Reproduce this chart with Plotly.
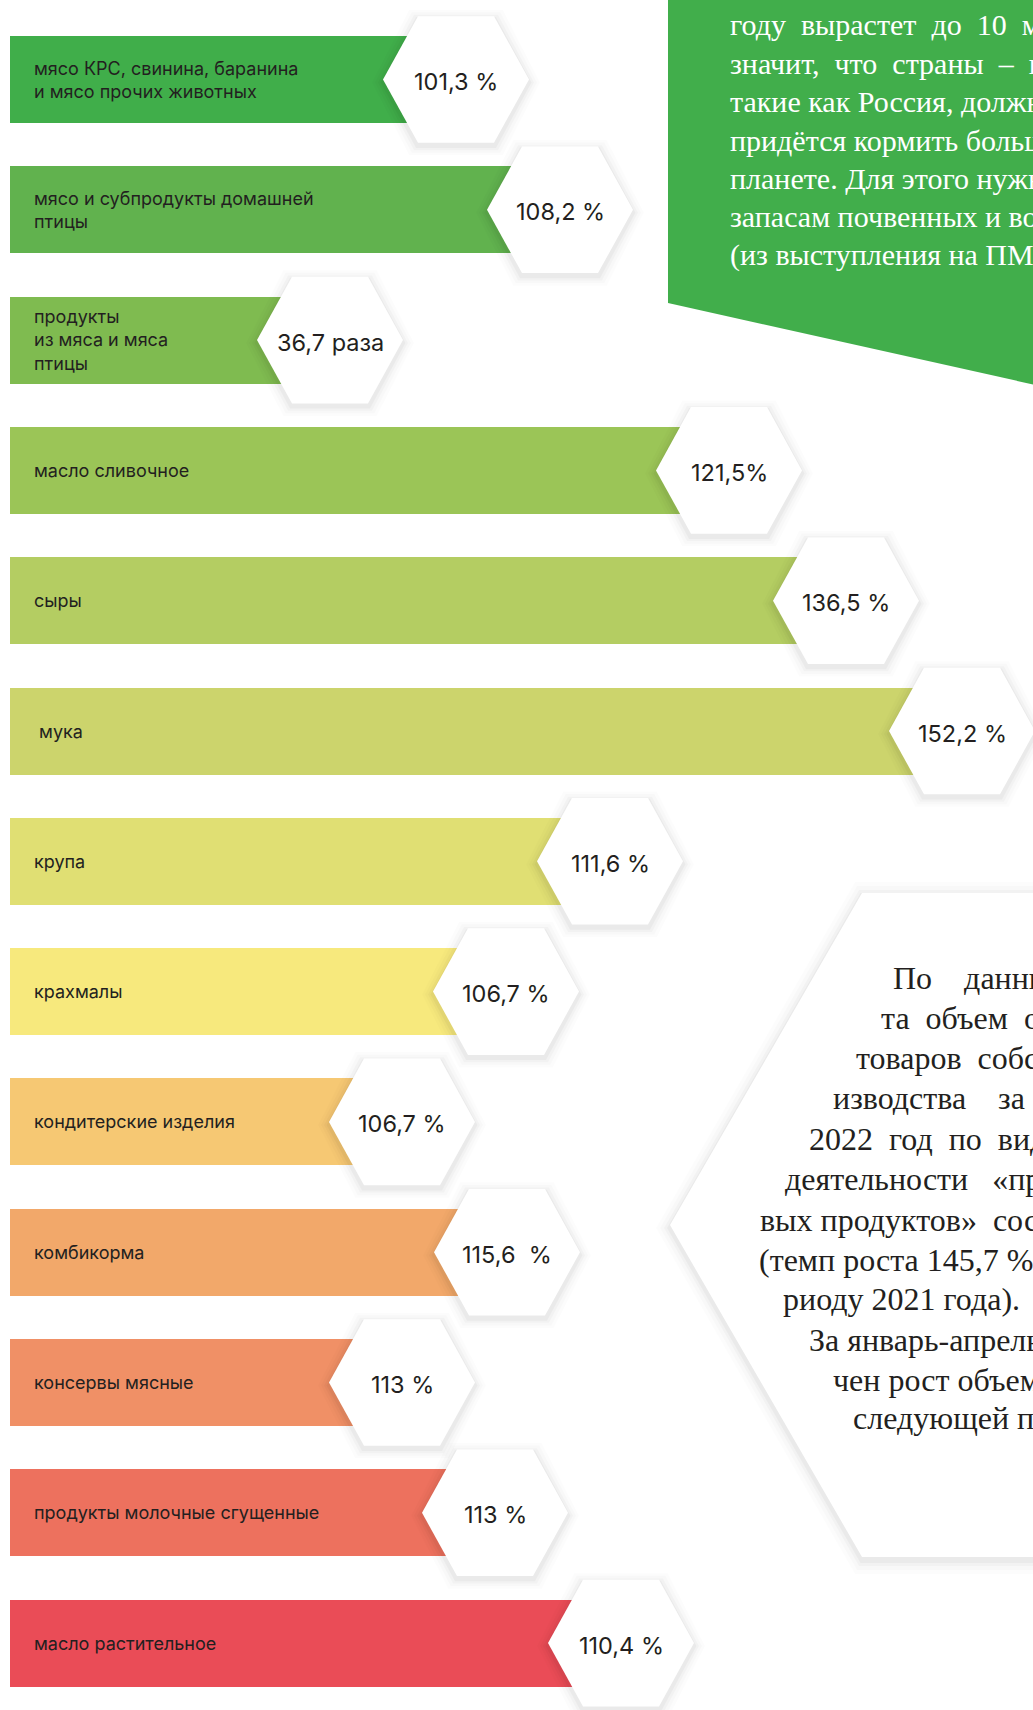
import plotly.graph_objects as go

# ---------------- data ----------------
categories = [
    "мясо КРС, свинина, баранина<br>и мясо прочих животных",
    "мясо и субпродукты домашней<br>птицы",
    "продукты<br>из мяса и мяса<br>птицы",
    "масло сливочное",
    "сыры",
    "\u00a0мука",
    "крупа",
    "крахмалы",
    "кондитерские изделия",
    "комбикорма",
    "консервы мясные",
    "продукты молочные сгущенные",
    "масло растительное",
]
value_labels = [
    "101,3 %", "108,2 %", "36,7 раза", "121,5%", "136,5 %", "152,2 %",
    "111,6 %", "106,7 %", "106,7 %", "115,6 \u00a0%", "113 %", "113 %", "110,4 %",
]
# visual bar lengths as drawn in the infographic (not proportional to the values)
bar_extent = [446, 550, 320, 719, 836, 952, 600, 496, 392, 497, 392, 485, 611]
bar_colors = [
    "#40ae4a", "#61b24e", "#7fbb50", "#9bc557", "#b4cd62", "#ccd46c", "#e0df73",
    "#f7e97d", "#f6c873", "#f2a86a", "#f09066", "#ed715e", "#ea4c57",
]

S = "\u00a0"
green_text = [
    f"году{S} вырастет{S} до{S} 10{S} млрд",
    f"значит,{S} что{S} страны{S} –{S} крупные",
    "такие как Россия, должны",
    "придётся кормить больше",
    "планете. Для этого нужно",
    "запасам почвенных и водных",
    "(из выступления на ПМЭФ)",
]
hex_text = [
    f"По{S*3} данным{S*2} Росстата",
    f"та{S} объем{S} отгруженных",
    f"товаров{S} собственного про-",
    f"изводства{S*3} за{S*2} январь-апрель",
    f"2022{S} год{S} по{S} виду экономической",
    f"деятельности{S*2} «производство пище-",
    f"вых продуктов»{S} составил",
    "(темп роста 145,7 % к аналогичному пе-",
    "риоду 2021 года).",
    "За январь-апрель 2022 года отме-",
    "чен рост объемов производства",
    "следующей продукции:",
]

# ---------------- layout constants ----------------
W, H = 1033, 1710
X0 = 10.0          # pixel where bars start
Y0, STEP = 79.5, 130.3   # pixel centre of first bar, spacing between bars
BAR_H = 87.0
HEX_HW, HEX_HH, HEX_IN = 73.0, 63.3, 35.0
SANS = "Inter, Roboto, 'Noto Sans', sans-serif"
SERIF = "'Liberation Serif', 'Times New Roman', 'DejaVu Serif', serif"
TXT = "#231f20"

n = len(categories)
ys = list(range(n))


def hex_pts(cx, cy, hw, hh, inset, ky):
    dx = [-hw, -hw + inset, hw - inset, hw, hw - inset, -hw + inset, -hw]
    dy = [0, -hh, -hh, 0, hh, hh, 0]
    return [cx + d for d in dx], [cy + d * ky for d in dy]


fig = go.Figure()

fig.add_trace(go.Bar(
    x=bar_extent, y=ys, orientation="h", width=BAR_H / STEP,
    marker=dict(color=bar_colors, line=dict(width=0)),
    hoverinfo="skip", showlegend=False,
))

ky = 1.0 / STEP
# soft shadows under the value hexagons
for i in range(n):
    for k, a in [(11, 0.012), (8, 0.016), (5, 0.022), (2.5, 0.03)]:
        sx, sy = hex_pts(bar_extent[i], i + 3 * ky, HEX_HW + k, HEX_HH + k * 0.87,
                         HEX_IN + k * 0.2, ky)
        fig.add_trace(go.Scatter(x=sx, y=sy, mode="lines", fill="toself",
                                 fillcolor=f"rgba(0,0,0,{a})", line=dict(width=0),
                                 hoverinfo="skip", showlegend=False))
for i in range(n):
    hx, hy = hex_pts(bar_extent[i], i, HEX_HW, HEX_HH, HEX_IN, ky)
    fig.add_trace(go.Scatter(x=hx, y=hy, mode="lines", fill="toself",
                             fillcolor="#ffffff", line=dict(width=0),
                             hoverinfo="skip", showlegend=False))

annotations = []
for i, v in enumerate(value_labels):
    annotations.append(dict(
        x=bar_extent[i], y=i, xref="x", yref="y", text=v, showarrow=False,
        xanchor="center", yanchor="middle", yshift=-2,
        font=dict(family=SANS, size=23.5, color=TXT),
    ))
for i, lab in enumerate(categories):
    annotations.append(dict(
        x=32 - X0, y=i, xref="x", yref="y", text=lab, showarrow=False,
        xanchor="left", yanchor="middle", align="left",
        font=dict(family=SANS, size=18, color=TXT),
    ))


def px(xp):
    return xp / W


def py(yp):
    return 1 - yp / H


def path(points):
    s = "M " + " L ".join(f"{px(a):.5f},{py(b):.5f}" for a, b in points) + " Z"
    return s


shapes = []
# green quote panel (top right)
shapes.append(dict(type="path", xref="paper", yref="paper", layer="below",
                   path=path([(668, 0), (1040, 0), (1040, 386), (668, 303)]),
                   fillcolor="#41ae4b", line=dict(width=0)))
# big white hexagon with shadow (middle right)
bcx, bcy, bhw, bhh, bin_ = 1053, 1225, 383, 332, 192
for k, a in [(14, 0.012), (10, 0.016), (6, 0.022), (3, 0.03)]:
    pts = [(bcx - bhw - k, bcy + 3), (bcx - bhw + bin_ - k * 0.5, bcy - bhh - k + 3),
           (bcx + bhw, bcy - bhh - k + 3), (bcx + bhw, bcy + bhh + k + 3),
           (bcx - bhw + bin_ - k * 0.5, bcy + bhh + k + 3)]
    shapes.append(dict(type="path", xref="paper", yref="paper", layer="below",
                       path=path(pts), fillcolor=f"rgba(0,0,0,{a})",
                       line=dict(width=0)))
shapes.append(dict(type="path", xref="paper", yref="paper", layer="below",
                   path=path([(bcx - bhw, bcy), (bcx - bhw + bin_, bcy - bhh),
                              (bcx + bhw, bcy - bhh), (bcx + bhw, bcy + bhh),
                              (bcx - bhw + bin_, bcy + bhh)]),
                   fillcolor="#ffffff", line=dict(width=0)))

green_y = [25, 63, 102, 140, 178, 217, 255]
for t, yy in zip(green_text, green_y):
    annotations.append(dict(
        x=px(728), y=py(yy), xref="paper", yref="paper", text=t, showarrow=False,
        xanchor="left", yanchor="middle", align="left",
        font=dict(family=SERIF, size=30, color="#ffffff"),
    ))

hex_x = [891, 879, 854, 831, 807, 783, 758, 757, 781, 807, 831, 851]
hex_y = [978, 1018, 1058, 1098, 1139, 1179, 1220, 1260, 1299, 1340, 1380, 1418]
for t, xx, yy in zip(hex_text, hex_x, hex_y):
    annotations.append(dict(
        x=px(xx), y=py(yy), xref="paper", yref="paper", text=t, showarrow=False,
        xanchor="left", yanchor="middle", align="left",
        font=dict(family=SERIF, size=32, color=TXT),
    ))

fig.update_layout(
    width=W, height=H, margin=dict(l=0, r=0, t=0, b=0),
    paper_bgcolor="#ffffff", plot_bgcolor="rgba(0,0,0,0)",
    showlegend=False, shapes=shapes, annotations=annotations,
    xaxis=dict(range=[-X0, W - X0], visible=False, fixedrange=True),
    yaxis=dict(range=[(H - Y0) / STEP, -Y0 / STEP], visible=False, fixedrange=True),
    bargap=0,
)

fig.write_html("out.html", config={"displayModeBar": False},
               post_script="document.body.style.margin='0';document.body.style.overflow='hidden';")
